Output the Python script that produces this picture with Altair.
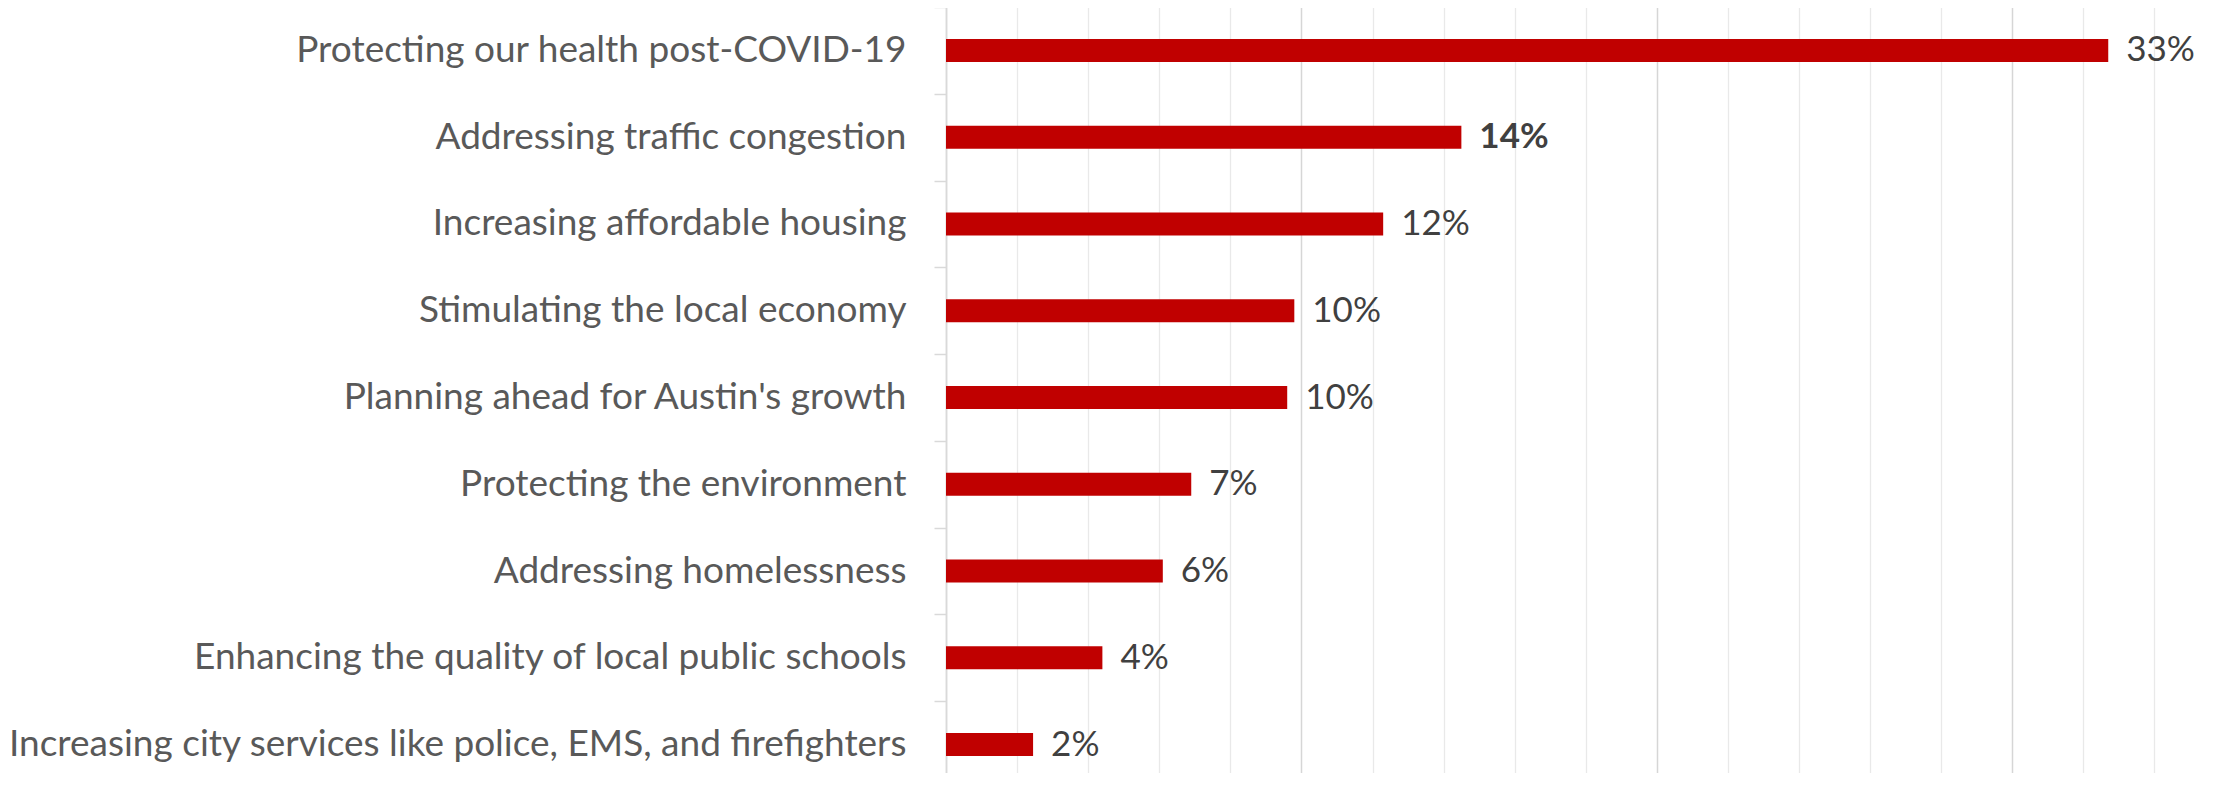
import altair as alt
import pandas as pd

categories = [
    "Protecting our health post-COVID-19",
    "Addressing traffic congestion",
    "Increasing affordable housing",
    "Stimulating the local economy",
    "Planning ahead for Austin's growth",
    "Protecting the environment",
    "Addressing homelessness",
    "Enhancing the quality of local public schools",
    "Increasing city services like police, EMS, and firefighters",
]
values = [32.7, 14.5, 12.3, 9.8, 9.6, 6.9, 6.1, 4.4, 2.45]
value_labels = ["33%", "14%", "12%", "10%", "10%", "7%", "6%", "4%", "2%"]
highlighted = "Addressing traffic congestion"
grid_values = list(range(0, 36))

df = pd.DataFrame({"category": categories, "value": values, "label": value_labels})

y_enc = alt.Y(
    "category:N",
    sort=categories,
    title=None,
    scale=alt.Scale(paddingInner=0, paddingOuter=0),
    axis=alt.Axis(
        grid=False,
        domain=True,
        domainColor="#d9d9d9",
        domainWidth=1.5,
        ticks=True,
        tickBand="extent",
        tickSize=12,
        tickColor="#d9d9d9",
        tickWidth=1.5,
        labelFont="Lato",
        labelFontSize=37,
        labelColor="#595959",
        labelPadding=28,
        labelLimit=2000,
    ),
)

x_scale = alt.Scale(domain=[0, 35], nice=False, zero=True)

bars = alt.Chart(df).mark_bar(size=23, color="#C00000").encode(
    y=y_enc,
    x=alt.X(
        "value:Q",
        scale=x_scale,
        title=None,
        axis=alt.Axis(
            values=grid_values,
            grid=True,
            labels=False,
            ticks=False,
            domain=False,
            gridColor={"condition": {"test": "datum.value % 5 === 0", "value": "#d6d6d6"}, "value": "#e9e9e9"},
            gridWidth={"condition": {"test": "datum.value % 5 === 0", "value": 1.5}, "value": 1.3},
        ),
    ),
)

text_normal = alt.Chart(df).transform_filter(
    alt.datum.category != highlighted
).mark_text(
    align="left", baseline="middle", dx=18, font="Lato", fontSize=35, color="#404040"
).encode(
    y=alt.Y("category:N", sort=categories),
    x=alt.X("value:Q", scale=x_scale),
    text="label:N",
)

text_bold = alt.Chart(df).transform_filter(
    alt.datum.category == highlighted
).mark_text(
    align="left", baseline="middle", dx=18, font="Lato", fontSize=35, fontWeight="bold", color="#404040"
).encode(
    y=alt.Y("category:N", sort=categories),
    x=alt.X("value:Q", scale=x_scale),
    text="label:N",
)

chart = (
    (bars + text_normal + text_bold)
    .properties(
        width=1244,
        height=781,
        autosize=alt.AutoSizeParams(type="none"),
        padding={"left": 938, "top": -1, "right": 10, "bottom": -15},
        background="white",
    )
    .configure_view(stroke=None)
)

chart.save("out.html", embed_options={"renderer": "svg", "actions": False})
